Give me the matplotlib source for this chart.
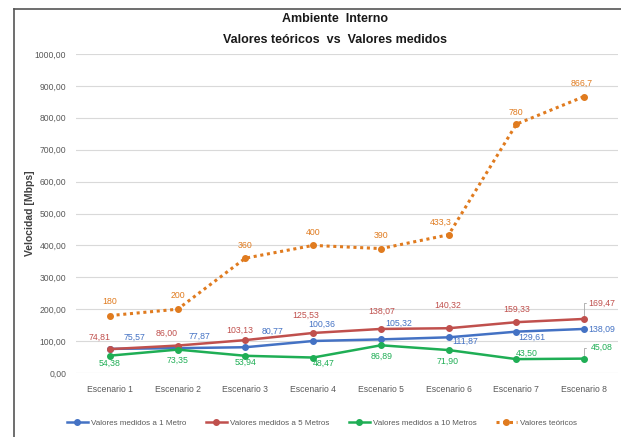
import matplotlib
matplotlib.use("Agg")
import matplotlib.pyplot as plt
from matplotlib.lines import Line2D

plt.rcParams['font.family'] = ['Liberation Sans', 'DejaVu Sans']

categories = ["Escenario 1", "Escenario 2", "Escenario 3", "Escenario 4",
              "Escenario 5", "Escenario 6", "Escenario 7", "Escenario 8"]
m1 = [75.57, 77.87, 80.77, 100.36, 105.32, 111.87, 129.61, 138.09]
m5 = [74.81, 86.00, 103.13, 125.53, 138.07, 140.32, 159.33, 169.47]
m10 = [54.38, 73.35, 53.94, 48.47, 86.89, 71.90, 43.50, 45.08]
teo = [180, 200, 360, 400, 390, 433.3, 780, 866.7]
teo_labels = ["180", "200", "360", "400", "390", "433,3", "780", "866,7"]
yticks = [0, 100, 200, 300, 400, 500, 600, 700, 800, 900, 1000]
series_names = ["Valores medidos a 1 Metro", "Valores medidos a 5 Metros",
                "Valores medidos a 10 Metros", "Valores teóricos"]

c1 = "#4472c4"
c5 = "#c0504d"
c10 = "#1fae55"
ct = "#e07b1f"

W, H = 621, 437
fig = plt.figure(figsize=(W / 100, H / 100), dpi=100)
# plot area in pixels: left 76, right 618, top 54 (1000), bottom 373 (0)
ax = fig.add_axes([76 / W, 1 - 373 / H, (618 - 76) / W, (373 - 54) / H])
x = list(range(len(categories)))
ax.set_xlim(-0.5, len(categories) - 0.5)
ax.set_ylim(0, 1000)
ax.set_yticks(yticks)
ax.set_yticklabels([f"{v:.2f}".replace(".", ",") for v in yticks])
ax.set_xticks(x)
ax.set_xticklabels(categories)
ax.tick_params(axis='both', length=0, labelsize=6.2, colors="#595959")
ax.tick_params(axis='y', pad=7)
ax.tick_params(axis='x', pad=9)
for s in ax.spines.values():
    s.set_visible(False)
ax.grid(axis='y', color="#d9d9d9", linewidth=0.8)
ax.set_axisbelow(True)

ax.plot(x, teo, color=ct, linestyle=(0, (1, 1.2)), linewidth=2.2, marker='o', markersize=4, zorder=3)
ax.plot(x, m1, color=c1, linewidth=1.8, marker='o', markersize=4, zorder=4)
ax.plot(x, m5, color=c5, linewidth=1.8, marker='o', markersize=4, zorder=4)
ax.plot(x, m10, color=c10, linewidth=1.8, marker='o', markersize=4, zorder=4)

def fmt(v):
    return f"{v:.2f}".replace(".", ",")

fs = 6.3
def lab(xi, yv, text, dx, dy, color):
    ax.annotate(text, (xi, yv), xytext=(dx, dy), textcoords='offset pixels',
                ha='center', va='center', fontsize=fs, color=color, zorder=6)

# offsets in pixels (dx right, dy up)
off1 = [(25, 12), (22, 12), (27, 16), (9, 17), (18, 16), (17, -4), (15, -6), (18, 0)]
off5 = [(-10, 12), (-11, 12), (-6, 10), (-7, 18), (1, 18), (-1, 23), (0, 13), (18, 16)]
off10 = [(0, -8), (0, -11), (0, -7), (11, -6), (1, -11), (-1, -11), (10, 6), (18, 11)]
offt = [(0, 14), (0, 14), (0, 13), (0, 13), (0, 13), (-8, 12), (0, 12), (-2, 13)]

for i in x:
    lab(i, m1[i], fmt(m1[i]), *off1[i], c1)
    lab(i, m5[i], fmt(m5[i]), *off5[i], c5)
    lab(i, m10[i], fmt(m10[i]), *off10[i], c10)
    lab(i, teo[i], teo_labels[i], *offt[i], ct)

# leader lines
ax.annotate("", xy=(7, 169.47), xytext=(5, 16), textcoords='offset pixels',
            arrowprops=dict(arrowstyle='-', color="#a6a6a6", lw=0.6,
                            connectionstyle="angle,angleA=0,angleB=90,rad=0"))
ax.annotate("", xy=(7, 45.08), xytext=(5, 11), textcoords='offset pixels',
            arrowprops=dict(arrowstyle='-', color="#a6a6a6", lw=0.6,
                            connectionstyle="angle,angleA=0,angleB=90,rad=0"))

ax.set_ylabel("Velocidad [Mbps]", fontsize=7.5, fontweight='bold', color="#404040")
ax.yaxis.set_label_coords((35 - 76) / 542, 0.5)

fig.text(335 / W, 1 - 19 / H, "Ambiente  Interno", ha='center', va='center',
         fontsize=9, fontweight='bold', color="#1a1a1a")
fig.text(335 / W, 1 - 40 / H, "Valores teóricos  vs  Valores medidos", ha='center', va='center',
         fontsize=9, fontweight='bold', color="#1a1a1a")

handles = [
    Line2D([], [], color=c1, linewidth=1.8, marker='o', markersize=4),
    Line2D([], [], color=c5, linewidth=1.8, marker='o', markersize=4),
    Line2D([], [], color=c10, linewidth=1.8, marker='o', markersize=4),
    Line2D([], [], color=ct, linewidth=2.2, linestyle=(0, (1, 1.2)), marker='o', markersize=4),
]
fig.legend(handles, series_names, loc='center', bbox_to_anchor=(322 / W, 1 - 423 / H),
           ncol=4, frameon=False, fontsize=5.8, labelcolor="#595959",
           handlelength=2.6, columnspacing=2.4, handletextpad=0.4)

# outer frame lines (top and left)
fig.add_artist(Line2D([14 / W, 1], [1 - 8.5 / H, 1 - 8.5 / H], transform=fig.transFigure, color="#555555", lw=1.2))
fig.add_artist(Line2D([14 / W, 14 / W], [0, 1 - 8.5 / H], transform=fig.transFigure, color="#555555", lw=1.2))

fig.savefig("out.png", dpi=100)
